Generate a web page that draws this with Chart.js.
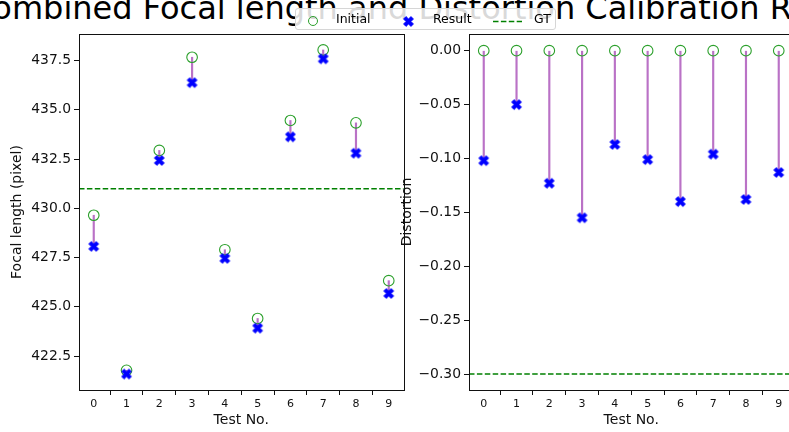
<!DOCTYPE html>
<html>
<head>
<meta charset="utf-8">
<script src="https://cdn.jsdelivr.net/npm/chart.js@4.4.1/dist/chart.umd.min.js"></script>
<style>
  html, body { margin: 0; padding: 0; background: #fff; overflow: hidden; }
  body { position: relative; width: 789px; height: 432px; font-family: 'DejaVu Sans', sans-serif; }
  #title { position: absolute; left: -30px; top: -8.5px; font-size: 32px; line-height: 32px; white-space: nowrap; color: #000; z-index: 1; }
  .plot { position: absolute; top: 0; z-index: 2; }
  #legend { position: absolute; left: 295px; top: 8px; width: 261px; height: 22px; box-sizing: border-box;
    background: rgba(255,255,255,0.85); border: 1px solid #d6d6d6; border-radius: 3px; z-index: 3; font-size: 12.5px; color: #000; }
  #legend > * { position: absolute; }
  #legend .lab { top: 0; line-height: 20px; }
  #legend .circ { left: 11.5px; top: 6.5px; width: 10.6px; height: 10.6px; box-sizing: border-box; border: 1px solid #2ca02c; border-radius: 50%; }
</style>
</head>
<body>
<div id="title">Combined Focal length and Distortion Calibration Results</div>
<canvas id="focal" class="plot" width="430" height="432" style="left:0px"></canvas>
<canvas id="dist" class="plot" width="410" height="432" style="left:396px"></canvas>
<div id="legend">
  <span class="circ"></span>
  <span class="lab" style="left:40px">Initial</span>
  <span id="legX" style="left:106px; top:6px"></span>
  <span class="lab" style="left:137px">Result</span>
  <svg style="left:197px; top:10.5px" width="29" height="3"><line x1="0" y1="1.5" x2="29" y2="1.5" stroke="#008000" stroke-width="1.5" stroke-dasharray="5.5 2.4"/></svg>
  <span class="lab" style="left:238px">GT</span>
</div>
<script>
// Test numbers and tick labels
const testNo = [0, 1, 2, 3, 4, 5, 6, 7, 8, 9];
const focalTicks = [422.5, 425.0, 427.5, 430.0, 432.5, 435.0, 437.5];
const distTicks = [-0.30, -0.25, -0.20, -0.15, -0.10, -0.05, 0.00];

// Focal length (pixel)
const focalInitial = [429.65, 421.78, 432.94, 437.67, 427.90, 424.41, 434.46, 438.04, 434.34, 426.33];
const focalResult = [428.07, 421.59, 432.43, 436.38, 427.46, 423.92, 433.63, 437.59, 432.80, 425.68];
const focalGT = 431.0;

// Distortion
const distInitial = [0, 0, 0, 0, 0, 0, 0, 0, 0, 0];
const distResult = [-0.102, -0.050, -0.123, -0.155, -0.087, -0.101, -0.140, -0.096, -0.138, -0.113];
const distGT = -0.30;

const GREEN = '#2ca02c';
const GT_GREEN = '#008000';
const BLUE = '#0000ff';
const LINK = 'rgba(140,20,160,0.6)';
const INK = '#111';

// filled "X" marker like matplotlib's
function makeXMarker(size, color) {
  const c = document.createElement('canvas');
  const n = Math.ceil(size) + 2;
  c.width = n; c.height = n;
  const g = c.getContext('2d');
  const a = 1 / 6, b = 0.5;
  const pts = [[-a,-b],[a,-b],[a,-a],[b,-a],[b,a],[a,a],[a,b],[-a,b],[-a,a],[-b,a],[-b,-a],[-a,-a]];
  g.translate(n / 2, n / 2);
  g.rotate(Math.PI / 4);
  g.beginPath();
  pts.forEach(([x, y], i) => i ? g.lineTo(x * size, y * size) : g.moveTo(x * size, y * size));
  g.closePath();
  g.fillStyle = color; g.fill();
  g.lineWidth = 0.8; g.strokeStyle = color; g.stroke();
  return c;
}

const xMarker = makeXMarker(10.5, BLUE);
document.getElementById('legX').appendChild(makeXMarker(10.5, BLUE));

// box round the plot area
const framePlugin = {
  id: 'frame',
  afterDatasetsDraw(chart) {
    const { ctx, chartArea: a } = chart;
    ctx.save();
    ctx.strokeStyle = INK;
    ctx.lineWidth = 1;
    ctx.strokeRect(Math.round(a.left) + 0.5, Math.round(a.top) + 0.5,
      Math.round(a.right - a.left), Math.round(a.bottom - a.top));
    ctx.restore();
  }
};

const X_MIN = -0.45, X_MAX = 9.45;

function makeChart(id, cfg) {
  const ctx = document.getElementById(id).getContext('2d');
  return new Chart(ctx, {
    type: 'line',
    data: {
      datasets: [{
        label: 'GT',
        data: [{ x: X_MIN, y: cfg.gt }, { x: X_MAX, y: cfg.gt }],
        borderColor: GT_GREEN,
        borderWidth: 1.5,
        borderDash: [5.5, 2.4],
        pointRadius: 0,
        order: 4,
      }, {
        type: 'bar',
        label: 'link',
        data: testNo.map((x, i) => ({ x, y: [cfg.initial[i], cfg.result[i]] })),
        backgroundColor: LINK,
        barThickness: 1.5,
        order: 3,
      }, {
        label: 'Initial',
        data: testNo.map((x, i) => ({ x, y: cfg.initial[i] })),
        showLine: false,
        pointStyle: 'circle',
        pointRadius: 5.3,
        pointBorderWidth: 1.1,
        pointBorderColor: GREEN,
        pointBackgroundColor: 'rgba(0,0,0,0)',
        order: 2,
      }, {
        label: 'Result',
        data: testNo.map((x, i) => ({ x, y: cfg.result[i] })),
        showLine: false,
        pointStyle: xMarker,
        order: 1,
      }]
    },
    options: {
      responsive: false,
      animation: false,
      clip: false,
      layout: { padding: { left: 0, top: 34, right: cfg.padRight, bottom: 0 } },
      plugins: { legend: { display: false }, tooltip: { enabled: false } },
      scales: {
        x: {
          type: 'linear',
          min: X_MIN, max: X_MAX,
          offset: false,
          afterBuildTicks: s => { s.ticks = testNo.map(v => ({ value: v })); },
          afterFit: s => { s.height = 42; },
          grid: { drawOnChartArea: false, drawTicks: true, tickLength: 5, color: INK, lineWidth: 1 },
          border: { display: false },
          ticks: { color: INK, padding: 3, font: { family: 'DejaVu Sans', size: 11 }, maxRotation: 0 },
          title: { display: true, text: 'Test No.', color: INK, font: { family: 'DejaVu Sans', size: 14 },
            padding: { top: 0, bottom: 3 } }
        },
        y: {
          min: cfg.yMin, max: cfg.yMax,
          afterBuildTicks: s => { s.ticks = cfg.ticks.map(v => ({ value: v })); },
          afterFit: s => { s.width = cfg.yWidth; },
          grid: { drawOnChartArea: false, drawTicks: true, tickLength: 5, color: INK, lineWidth: 1 },
          border: { display: false },
          ticks: { color: INK, padding: 3, font: { family: 'DejaVu Sans', size: 13.9 },
            callback: v => v.toFixed(cfg.decimals).replace('-', '\u2212') },
          title: { display: true, text: cfg.yTitle, color: INK, font: { family: 'DejaVu Sans', size: 14 },
            padding: { top: cfg.titlePad, bottom: 0 } }
        }
      }
    },
    plugins: [framePlugin]
  });
}

makeChart('focal', {
  initial: focalInitial, result: focalResult, gt: focalGT,
  ticks: focalTicks, yMin: 420.78, yMax: 438.85, decimals: 1,
  yTitle: 'Focal length (pixel)', yWidth: 79, titlePad: 8.5, padRight: 26.5
});

makeChart('dist', {
  initial: distInitial, result: distResult, gt: distGT,
  ticks: distTicks, yMin: -0.3148, yMax: 0.0155, decimals: 2,
  yTitle: 'Distortion', yWidth: 73, titlePad: 3, padRight: 12.5
});
</script>
</body>
</html>
